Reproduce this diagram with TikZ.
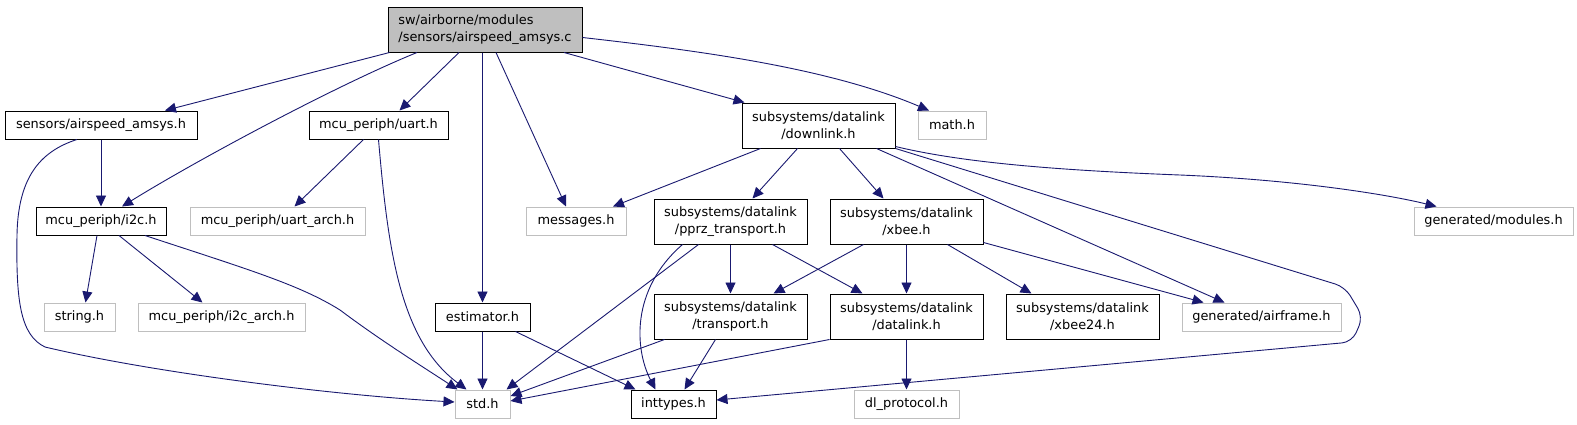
\documentclass[tikz,border=0pt]{standalone}
\usepackage{fontspec}
\setmainfont{DejaVu Sans}
\usepackage{tikz}
\usetikzlibrary{arrows.meta,positioning}
\usepackage{xcolor}
\definecolor{EdgeBlue}{HTML}{191970}
\definecolor{ExtGray}{HTML}{BFBFBF}
\definecolor{RootGray}{HTML}{BFBFBF}
\newcommand{\incfont}{\fontsize{12.9pt}{17pt}\selectfont}
\tikzset{
  filenode/.style={draw=black,fill=white,line width=1pt,inner sep=0pt,minimum height=28pt,align=center,font=\incfont},
  extnode/.style={draw=ExtGray,fill=white,line width=1pt,inner sep=0pt,minimum height=28pt,align=center,font=\incfont},
  rootnode/.style={draw=black,fill=RootGray,line width=1pt,inner sep=0pt,minimum height=45pt,align=left,font=\incfont},
  twoline/.style={minimum height=45pt},
  incl/.style={-{Triangle[length=11pt,width=10pt]},line width=0.9pt,draw=EdgeBlue}
}
\begin{document}
\begin{tikzpicture}[x=1pt,y=-1pt]
\path[use as bounding box,fill=white] (0,0) rectangle (1577,424);
\node[rootnode,minimum width=194pt] (root) at (485,29.5) {sw/airborne/modules\\/sensors/airspeed\_amsys.c};
\node[filenode,minimum width=192pt] (amsysh) at (101,125) {sensors/airspeed\_amsys.h};
\node[filenode,minimum width=139pt] (uarth) at (378.5,125) {mcu\_periph/uart.h};
\node[filenode,twoline,minimum width=153pt] (downlinkh) at (818.5,125.5) {subsystems/datalink\\/downlink.h};
\node[extnode,minimum width=68pt] (mathh) at (952,125) {math.h};
\node[filenode,minimum width=130pt] (i2ch) at (101,221) {mcu\_periph/i2c.h};
\node[extnode,minimum width=175pt] (uartarch) at (277.5,221) {mcu\_periph/uart\_arch.h};
\node[extnode,minimum width=100pt] (msgh) at (576,221) {messages.h};
\node[filenode,twoline,minimum width=153pt] (pprzh) at (730.5,221.5) {subsystems/datalink\\/pprz\_transport.h};
\node[filenode,twoline,minimum width=153pt] (xbeeh) at (906.5,221.5) {subsystems/datalink\\/xbee.h};
\node[extnode,minimum width=159pt] (modulesh) at (1493.5,221) {generated/modules.h};
\node[extnode,minimum width=71pt] (strh) at (79.5,317) {string.h};
\node[extnode,minimum width=167pt] (i2carch) at (221.5,317) {mcu\_periph/i2c\_arch.h};
\node[filenode,minimum width=95pt] (esth) at (482.5,317) {estimator.h};
\node[filenode,twoline,minimum width=153pt] (transph) at (730.5,316.5) {subsystems/datalink\\/transport.h};
\node[filenode,twoline,minimum width=153pt] (dlh) at (906.5,316.5) {subsystems/datalink\\/datalink.h};
\node[filenode,twoline,minimum width=153pt] (xbee24h) at (1082.5,316.5) {subsystems/datalink\\/xbee24.h};
\node[extnode,minimum width=159pt] (airframeh) at (1261.5,317) {generated/airframe.h};
\node[extnode,minimum width=55pt] (stdh) at (482.5,404) {std.h};
\node[filenode,minimum width=85pt] (intth) at (673.5,404) {inttypes.h};
\node[extnode,minimum width=105pt] (dlproth) at (906.5,404) {dl\_protocol.h};
\foreach \a/\b in {amsysh/i2ch,esth/stdh,pprzh/transph,xbeeh/dlh,dlh/dlproth}{\draw[incl] (\a) -- (\b);}
\draw[incl] (root.south -| esth.north) -- (esth.north);
\draw[incl] ([xshift=2pt]root.south west) -- ([xshift=64pt]amsysh.north);
\draw[incl] ([xshift=-68pt]root.south) .. controls (337,85) and (197,160) .. ([xshift=21pt]i2ch.north);
\draw[incl] ([xshift=-26pt]root.south) -- ([xshift=21pt]uarth.north);
\draw[incl] ([xshift=11pt]root.south) -- ([xshift=-10pt]msgh.north);
\draw[incl] ([xshift=79pt]root.south) -- ([xshift=3pt]downlinkh.north west);
\draw[incl] ([yshift=-8pt]root.east) .. controls (702,51) and (829,68) .. ([xshift=-23pt]mathh.north);
\draw[incl] ([xshift=-24pt]amsysh.south) .. controls (38,152) and (18,180) .. (17,235) .. controls (16,300) and (20,335) .. (45,347) .. controls (150,372) and (330,395) .. ([yshift=2pt]stdh.west);
\draw[incl] ([xshift=-4pt]i2ch.south) -- ([xshift=6pt]strh.north);
\draw[incl] ([xshift=18pt]i2ch.south) -- ([xshift=-19pt]i2carch.north);
\draw[incl] ([xshift=44pt]i2ch.south) .. controls (250,270) and (300,285) .. (340,310) .. controls (380,340) and (420,365) .. ([xshift=-25pt]stdh.north);
\draw[incl] ([xshift=-15pt]uarth.south) -- ([xshift=17pt]uartarch.north);
\draw[incl] (uarth.south) .. controls (388,250) and (400,340) .. ([xshift=-16pt]stdh.north);
\draw[incl] ([xshift=33pt]esth.south) -- ([xshift=-38pt]intth.north);
\draw[incl] ([xshift=-58pt]downlinkh.south) -- ([xshift=37pt]msgh.north);
\draw[incl] ([xshift=-21pt]downlinkh.south) -- ([xshift=22pt]pprzh.north);
\draw[incl] ([xshift=21pt]downlinkh.south) -- ([xshift=-23pt]xbeeh.north);
\draw[incl] ([xshift=58pt]downlinkh.south) -- ([xshift=-37pt]airframeh.north);
\draw[incl,rounded corners=10pt] (downlinkh.south east) -- (1345,287) -- (1363,317) -- (1352,342) -- ([yshift=4pt]intth.east);
\draw[incl] ([yshift=2pt]downlinkh.south east) .. controls (960,162) and (1050,170) .. (1180,175) .. controls (1300,180) and (1390,195) .. ([xshift=-57pt]modulesh.north);
\draw[incl] ([xshift=-32pt]pprzh.south) -- ([xshift=-4pt]stdh.north east);
\draw[incl] ([xshift=-48pt]pprzh.south) .. controls (630,290) and (635,350) .. ([xshift=-18pt]intth.north);
\draw[incl] ([xshift=42pt]pprzh.south) -- ([xshift=-44pt]dlh.north);
\draw[incl] ([xshift=-43pt]xbeeh.south) -- ([xshift=43pt]transph.north);
\draw[incl] ([xshift=41pt]xbeeh.south) -- ([xshift=-51pt]xbee24h.north);
\draw[incl] ([yshift=2pt]xbeeh.south east) -- ([xshift=-58pt]airframeh.north);
\draw[incl] ([xshift=-66pt]transph.south) -- ([yshift=8pt]stdh.east);
\draw[incl] ([xshift=-15pt]transph.south) -- ([xshift=11pt]intth.north);
\draw[incl] (dlh.south west) -- ([yshift=3pt]stdh.east);
\end{tikzpicture}
\end{document}
